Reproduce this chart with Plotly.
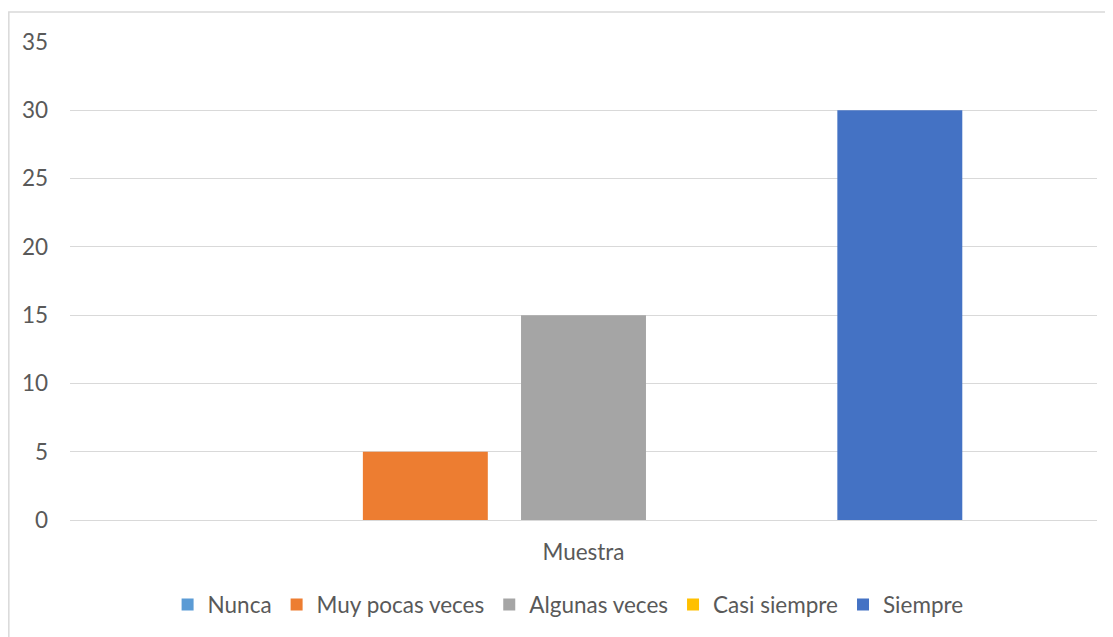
import plotly.graph_objects as go

categories = ["Muestra"]
series_names = ["Nunca", "Muy pocas veces", "Algunas veces", "Casi siempre", "Siempre"]
series_values = [[0], [5], [15], [0], [30]]
colors = ["#5B9BD5", "#ED7D31", "#A5A5A5", "#FFC000", "#4472C4"]
y_ticks = [0, 5, 10, 15, 20, 25, 30, 35]

FONT = "Lato, sans-serif"
FS = 22.5

fig = go.Figure()
for name, vals, c in zip(series_names, series_values, colors):
    fig.add_trace(go.Bar(x=categories, y=vals, name=name, marker=dict(color=c, line=dict(width=0))))

# page body has an 8px margin; figure placed at (8, 8)
fig.update_layout(
    width=1105, height=629,
    margin=dict(l=62, r=16, t=34, b=116),
    paper_bgcolor="white", plot_bgcolor="white",
    barmode="group", bargap=0.23, bargroupgap=0.21,
    font=dict(family=FONT, size=FS, color="#595959"),
    showlegend=True,
    legend=dict(orientation="h", x=0.485, xanchor="center", y=-0.175, yanchor="middle",
                font=dict(size=FS, color="#595959"), itemwidth=30, traceorder="normal"),
    xaxis=dict(showgrid=False, showline=False, ticks="", tickfont=dict(size=FS), ticklabelstandoff=16),
    yaxis=dict(range=[0, 35], tickvals=y_ticks, showgrid=True, gridcolor="#D9D9D9", gridwidth=1.3,
               zeroline=True, zerolinecolor="#D9D9D9", zerolinewidth=1.3, showline=False,
               ticks="", ticklabelstandoff=21, tickfont=dict(size=FS)),
    shapes=[dict(type="rect", xref="paper", yref="paper",
                 x0=-62 / 1027 + 0.0008, x1=1.05, y0=-0.3, y1=(479 + 30) / 479,
                 line=dict(color="#D9D9D9", width=1.5), fillcolor="rgba(0,0,0,0)", layer="below")],
)

fig.write_html("out.html")
